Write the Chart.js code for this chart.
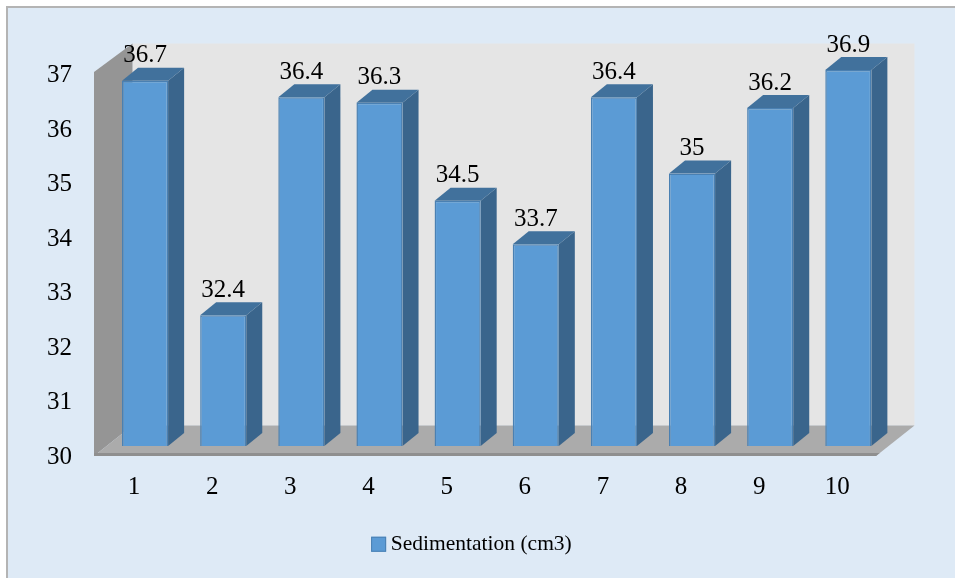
<!DOCTYPE html>
<html>
<head>
<meta charset="utf-8">
<style>html,body{margin:0;padding:0;background:#fff}canvas{display:block}</style>
<script src="https://cdn.jsdelivr.net/npm/chart.js@4"></script>
</head>
<body>
<canvas id="c" width="955" height="578"></canvas>
<script>
const categories = ['1','2','3','4','5','6','7','8','9','10'];
const sedimentation = [36.7,32.4,36.4,36.3,34.5,33.7,36.4,35,36.2,36.9];
const seriesName = 'Sedimentation (cm3)';
const yMin = 30, yMax = 37;
const FONT = '"Liberation Serif"';
const BLUE = '#5B9BD5', EDGE = '#4A80B2';

function poly(ctx, pts, fill){
  ctx.beginPath();
  pts.forEach((p,i)=> i?ctx.lineTo(p[0],p[1]):ctx.moveTo(p[0],p[1]));
  ctx.closePath(); ctx.fillStyle = fill; ctx.fill();
}
const scene = {
  id:'scene',
  afterLayout(chart){
    const lg = chart.legend, d = 29.25;
    lg.left += d; lg.right += d;
  },
  beforeDraw(chart){
    const c = chart.ctx;
    c.save();
    c.fillStyle='#ffffff'; c.fillRect(0,0,955,578);
    c.fillStyle='#b4b4b4'; c.fillRect(6,6,949,572);
    c.fillStyle='#DEEAF6'; c.fillRect(8,8,947,570);
    c.restore();
  },
  beforeDatasetsDraw(chart){
    const c = chart.ctx, a = chart.chartArea, y = chart.scales.y;
    const y0 = y.getPixelForValue(yMin), y1 = y.getPixelForValue(yMax);
    const L = a.left-12, R = a.right-11.4, FB = y0+10, FT = y1+7.5;
    const dx = 38.5, dyT = 28.5, dyB = 30.5;
    c.save();
    poly(c,[[L+dx,FT-dyT],[R+dx,FT-dyT],[R+dx,FB-dyB],[L+dx,FB-dyB]],'#E5E5E5');
    poly(c,[[L,FT],[L+dx,FT-dyT],[L+dx,FB-dyB],[L,FB]],'#959595');
    poly(c,[[L,FB],[L+dx,FB-dyB],[R+dx,FB-dyB],[R,FB]],'#ABABAB');
    poly(c,[[L,FB-3],[R+3.7,FB-3],[R,FB],[L,FB]],'#8F8F8F');
    const meta = chart.getDatasetMeta(0);
    const ox = 16, oy = 13;
    meta.data.forEach(b=>{
      const l=b.x-b.width/2, r=b.x+b.width/2, t=b.y;
      poly(c,[[r,t],[r+ox,t-oy],[r+ox,y0-oy],[r,y0]],'#3A658C');
      poly(c,[[l,t],[l+ox,t-oy],[r+ox,t-oy],[r,t]],'#41719C');
    });
    c.restore();
  },
  afterDatasetsDraw(chart){
    const c = chart.ctx;
    c.save();
    c.font='25px '+FONT; c.fillStyle='#000'; c.textAlign='center'; c.textBaseline='middle';
    chart.getDatasetMeta(0).data.forEach((b,i)=>{
      c.fillText(String(sedimentation[i]), b.x, b.y-25);
    });
    c.restore();
  },
  afterDraw(chart){
    const c = chart.ctx, h = chart.legend.legendHitBoxes[0];
    const cy = h.top + h.height/2;
    c.save();
    c.fillStyle = BLUE; c.strokeStyle = EDGE; c.lineWidth = 1;
    c.fillRect(h.left-3, cy-7.5, 15, 15); c.strokeRect(h.left-2.5, cy-7, 14, 14);
    c.restore();
  }
};

new Chart(document.getElementById('c'),{
  type:'bar',
  data:{labels:categories,datasets:[{
    label:seriesName,data:sedimentation,
    backgroundColor:BLUE,borderColor:EDGE,borderWidth:1.5,borderSkipped:false,
    categoryPercentage:1,barPercentage:0.59
  }]},
  options:{
    responsive:false,animation:false,
    layout:{padding:{left:0,right:67.6,top:64.5,bottom:13}},
    plugins:{
      tooltip:{enabled:false},
      legend:{position:'bottom',labels:{color:'#000',font:{family:FONT,size:21.5},boxWidth:6,boxHeight:13,padding:10,
        generateLabels(chart){
          return [{text:seriesName,fillStyle:'rgba(0,0,0,0)',strokeStyle:'rgba(0,0,0,0)',lineWidth:0,datasetIndex:0}];
        }}}
    },
    scales:{
      x:{grid:{display:false,drawTicks:false},border:{display:false},
        ticks:{color:'#000',font:{family:FONT,size:25},padding:26.5,labelOffset:-11,maxRotation:0},
        afterFit(s){s.height=77.5}},
      y:{min:yMin,max:yMax,grid:{display:false,drawTicks:false},border:{display:false},
        ticks:{color:'#000',font:{family:FONT,size:25},padding:34,stepSize:1,labelOffset:11},
        afterFit(s){s.width=106}}
    }
  },
  plugins:[scene]
});
</script>
</body>
</html>
